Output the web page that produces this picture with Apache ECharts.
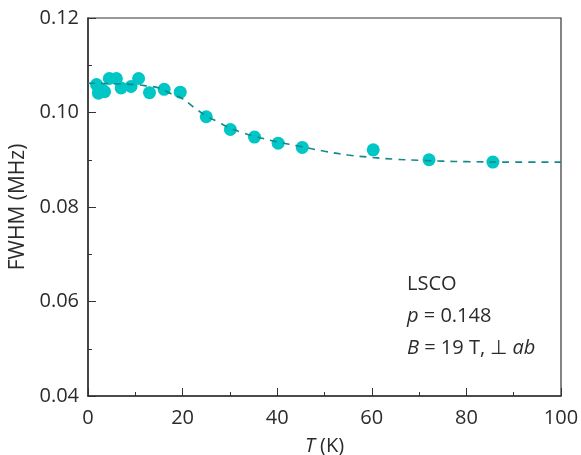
<!DOCTYPE html>
<html>
<head>
<meta charset="utf-8">
<script src="https://cdn.jsdelivr.net/npm/echarts@6/dist/echarts.min.js"></script>
<style>html,body{margin:0;padding:0;background:#fff}#c{width:581px;height:455px}</style>
</head>
<body>
<div id="c"></div>
<script>
// Measured points
const tempK = [1.8, 2.2, 3.0, 3.5, 4.5, 6.0, 7.0, 9.1, 10.7, 13.0, 16.1, 19.5, 25.0, 30.1, 35.2, 40.2, 45.3, 60.3, 72.1, 85.6];
const fwhm  = [0.1059, 0.1041, 0.1048, 0.1044, 0.1072, 0.1072, 0.1052, 0.1055, 0.1072, 0.1042, 0.1049, 0.1043, 0.0991, 0.0964, 0.0948, 0.0935, 0.0926, 0.0921, 0.0900, 0.0895];
// Fit curve
const fitT   = [0, 5, 10, 12.5, 15, 17.5, 20, 22.5, 25, 27.5, 30, 32.5, 35, 40, 45, 50, 55, 60, 65, 70, 75, 80, 90, 100];
const fitVal = [0.1062, 0.1061, 0.1059, 0.1056, 0.1052, 0.1040, 0.1029, 0.1010, 0.0993, 0.0980, 0.0967, 0.0958, 0.0950, 0.0938, 0.0928, 0.0918, 0.0910, 0.0905, 0.0901, 0.0899, 0.0897, 0.0896, 0.0895, 0.0895];
const xTicks = [0, 20, 40, 60, 80, 100];
const yTicks = [0.04, 0.06, 0.08, 0.10, 0.12];

const FONT = '"Open Sans", "Noto Sans", sans-serif';
const TXT = '#2b2b2b';
const chart = echarts.init(document.getElementById('c'), null, {renderer: 'canvas'});
const points = tempK.map((t, i) => [t, fwhm[i]]);
const fit = fitT.map((t, i) => [t, fitVal[i]]);

chart.setOption({
  animation: false,
  grid: {left: 88, right: 20, top: 18, bottom: 59, outerBoundsMode: 'none', containLabel: false,
    show: true, borderColor: '#333', borderWidth: 1.2, backgroundColor: 'transparent'},
  xAxis: {
    type: 'value', min: xTicks[0], max: xTicks[xTicks.length - 1], interval: 20,
    name: '{i|T} (K)', nameLocation: 'middle', nameGap: 40,
    nameTextStyle: {fontFamily: FONT, fontSize: 20, color: TXT,
      rich: {i: {fontStyle: 'italic', fontFamily: FONT, fontSize: 20, color: TXT}}},
    axisLine: {lineStyle: {color: '#333', width: 1.5}},
    axisTick: {inside: true, length: 8, lineStyle: {color: '#333', width: 1}},
    minorTick: {show: true, splitNumber: 2, length: 4, lineStyle: {color: '#333', width: 1}},
    splitLine: {show: false},
    axisLabel: {fontFamily: FONT, fontSize: 20, color: TXT, margin: 12}
  },
  yAxis: {
    type: 'value', min: yTicks[0], max: yTicks[yTicks.length - 1], interval: 0.02,
    name: 'FWHM (MHz)', nameLocation: 'middle', nameGap: 56, nameRotate: 90,
    nameTextStyle: {fontFamily: FONT, fontSize: 21, color: TXT},
    axisLine: {lineStyle: {color: '#333', width: 1.5}},
    axisTick: {inside: true, length: 8, lineStyle: {color: '#333', width: 1}},
    minorTick: {show: true, splitNumber: 2, length: 4, lineStyle: {color: '#333', width: 1}},
    splitLine: {show: false},
    axisLabel: {fontFamily: FONT, fontSize: 20, color: TXT, margin: 9,
      formatter: v => v.toFixed(2)}
  },
  series: [
    {
      type: 'line', data: fit, smooth: 0.4, showSymbol: false, symbol: 'none',
      lineStyle: {color: '#14898a', width: 1.6, type: [7, 6]}, z: 3
    },
    {
      type: 'scatter', data: points, symbolSize: 13,
      itemStyle: {color: '#00c6c6', opacity: 1}, z: 2
    }
  ],
  graphic: [
    {type: 'text', left: 407, top: 274, style: {text: 'LSCO', font: '20px ' + FONT, fill: TXT}},
    {type: 'text', left: 407, top: 306, style: {
      text: '{i|p} = 0.148', fill: TXT, font: '20px ' + FONT,
      rich: {i: {fontStyle: 'italic', fontFamily: FONT, fontSize: 20, fill: TXT}}}},
    {type: 'text', left: 407, top: 338, style: {
      text: '{i|B} = 19 T, \u22A5 {i|ab}', fill: TXT, font: '20px ' + FONT,
      rich: {i: {fontStyle: 'italic', fontFamily: FONT, fontSize: 20, fill: TXT}}}}
  ]
});
</script>
</body>
</html>
